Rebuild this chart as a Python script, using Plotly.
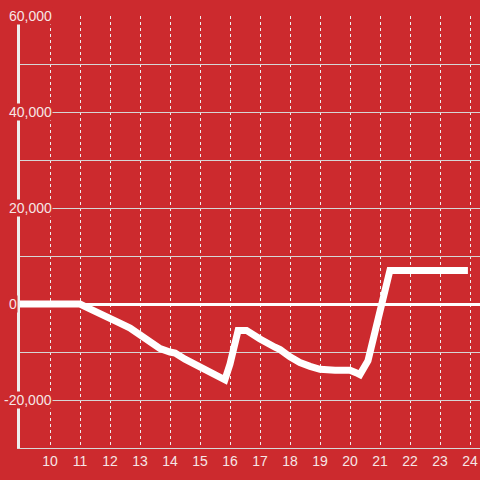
import plotly.graph_objects as go

# hour of day and running balance
hours = [9.0, 11.0, 11.33, 11.67, 12.0, 12.33, 12.67, 13.0, 13.33, 13.67, 14.0, 14.17,
         14.5, 15.0, 15.33, 15.67, 15.83, 16.0, 16.27, 16.55, 16.83, 17.0, 17.5, 17.67,
         18.0, 18.33, 18.67, 19.0, 19.5, 20.0, 20.2, 20.33, 20.6, 21.33, 23.93]
balance = [0, 0, -1000, -1900, -3000, -4000, -5000, -6500, -8000, -9300, -10000, -10200,
           -11500, -13000, -14300, -15200, -15800, -12500, -5500, -5500, -6800, -7300, -9000, -9500,
           -11000, -12200, -13000, -13600, -13800, -13800, -14300, -14700, -11800, 7000, 7000]

x_ticks = list(range(10, 25))
y_ticks = [60000, 40000, 20000, 0, -20000]
y_labels = ["60,000", "40,000", "20,000", "0", "-20,000"]

bg = "#cc2a2e"
label_col = "#f6e6e6"
font = "Liberation Sans"

fig = go.Figure()
fig.add_trace(go.Scatter(
    x=hours, y=balance, mode="lines",
    line=dict(color="white", width=7),
    hoverinfo="skip",
))

# y labels sit over the axis/grid with a red backing, like the original
for v, t in zip(y_ticks, y_labels):
    if v == 0:
        fig.add_annotation(x=(8 - 20) / 460, xref="paper", y=v, yref="y", text=t,
                           showarrow=False, xanchor="left", yanchor="middle",
                           font=dict(family=font, size=14, color=label_col),
                           bgcolor=bg, borderpad=0)
    else:
        fig.add_annotation(x=(53 - 20) / 460, xref="paper", y=v, yref="y", text=t,
                           showarrow=False, xanchor="right", yanchor="middle",
                           font=dict(family=font, size=14, color=label_col),
                           bgcolor=bg, borderpad=0)

fig.update_xaxes(
    range=[9, 24.333], tickvals=x_ticks, ticks="", ticklen=0,
    tickfont=dict(family=font, size=14, color=label_col),
    showgrid=True, gridcolor="#eeeeee", gridwidth=1, griddash="dot",
    showline=True, linecolor="#d8d8d8", linewidth=1, zeroline=False,
    automargin=False,
)
fig.update_yaxes(
    range=[-30000, 60000], dtick=10000, showticklabels=False, ticks="",
    showgrid=True, gridcolor="#d6d6d6", gridwidth=1,
    zeroline=True, zerolinecolor="white", zerolinewidth=3,
    showline=True, linecolor="#eeeeee", linewidth=3,
    automargin=False,
)
fig.update_layout(
    width=480, height=480,
    margin=dict(l=20, r=0, t=16, b=32),
    paper_bgcolor=bg, plot_bgcolor=bg,
    showlegend=False,
)

# drop the default page margin so the figure sits at the window corner
fig.write_html("out.html", config={"displayModeBar": False},
               post_script="document.body.style.margin='0';")
